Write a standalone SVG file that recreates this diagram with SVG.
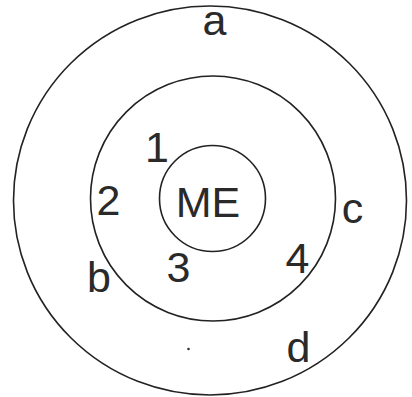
<svg xmlns="http://www.w3.org/2000/svg" width="412" height="397" viewBox="0 0 412 397">
<style>
.ring{fill:none;stroke:#222;stroke-width:1.6}
.lbl{font-family:"Liberation Sans",Arial,sans-serif;font-size:43px;fill:#2a2a2a;text-anchor:middle}
</style>
<rect width="412" height="397" fill="#fff"/>
<g id="outer"><ellipse class="ring" cx="210" cy="200.5" rx="196.5" ry="194.5"/></g>
<g id="middle"><circle class="ring" cx="213" cy="198.5" r="122.5"/></g>
<g id="inner"><circle class="ring" cx="212.5" cy="198.5" r="53"/><text class="lbl" x="208" y="217" font-size="45">ME</text></g>
<g id="connectors"></g>
<g id="labels">
<text class="lbl" x="214.5" y="35">a</text>
<text class="lbl" x="157" y="162">1</text>
<text class="lbl" x="108.5" y="215">2</text>
<text class="lbl" x="178.5" y="282">3</text>
<text class="lbl" x="297.5" y="273">4</text>
<text class="lbl" x="99" y="292">b</text>
<text class="lbl" x="352.5" y="223">c</text>
<text class="lbl" x="298.5" y="362">d</text>
<circle cx="188.5" cy="349" r="1.3" fill="#333"/>
</g>
</svg>
